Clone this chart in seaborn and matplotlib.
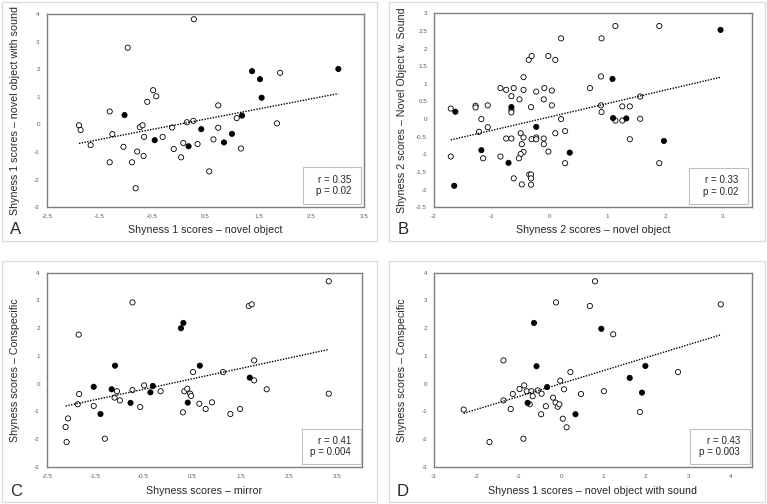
import numpy as np
import pandas as pd
import matplotlib.pyplot as plt
import seaborn as sns
from matplotlib.patches import Rectangle
from matplotlib.ticker import FixedLocator, FuncFormatter

sns.set_theme(style="white")
plt.rcParams["font.family"] = ["Liberation Sans", "DejaVu Sans"]
plt.rcParams["axes.unicode_minus"] = False

W, H = 767, 504

# ---------------------------------------------------------------------------
# Data (open = ○, filled = ●)
# ---------------------------------------------------------------------------
# A: novel object vs novel object with sound
A_OPEN_X = [-1.89, -1.86, -1.67, -1.31, -1.26, -1.31, -1.05, -0.97, -0.89, -0.82,
            -0.79, -0.74, -0.69, -0.66, -0.67, -0.60, -0.49, -0.43, -0.31, -0.13,
            -0.10, 0.04, 0.08, 0.15, 0.27, 0.28, 0.35, 0.57, 0.65, 0.74,
            0.74, 1.09, 1.17, 1.85, 1.91]
A_OPEN_Y = [-0.03, -0.20, -0.75, 0.47, -0.35, -1.37, -0.81, 2.78, -1.37, -2.31,
            -0.98, -0.10, -0.03, -0.45, -1.14, 0.82, 1.24, 1.02, -0.45, -0.11,
            -0.89, -1.19, -0.67, 0.08, 0.13, 3.81, -0.71, -1.70, -0.54, 0.69,
            -0.12, 0.23, -0.87, 0.04, 1.87]
A_FILLED_X = [-1.03, -0.46, 0.18, 0.42, 0.85, 1.00, 1.19, 1.38, 1.53, 1.56, 3.01]
A_FILLED_Y = [0.34, -0.57, -0.79, -0.17, -0.65, -0.34, 0.32, 1.93, 1.64, 0.97, 2.01]

# B: shyness 2, novel object vs novel object with sound
B_OPEN_X = [-1.71, -1.71, -1.28, -1.28, -1.18, -1.22, -1.07, -1.07, -1.15, -0.85,
            -0.75, -0.85, -0.75, -0.66, -0.66, -0.62, -0.66, -0.66, -0.62, -0.52,
            -0.45, -0.45, -0.50, -0.45, -0.48, -0.45, -0.50, -0.53, -0.48, -0.36,
            -0.31, -0.35, -0.32, -0.32, -0.32, -0.32, -0.31, -0.23, -0.23, -0.23,
            -0.09, -0.10, -0.10, -0.10, -0.02, -0.02, 0.04, 0.04, 0.10, 0.10,
            0.20, 0.20, 0.27, 0.27,
            1.14, 1.90, 0.90, 0.89, 0.70, 1.57, 0.89, 0.90, 1.26, 1.39,
            1.14, 1.26, 1.57, 1.39, 1.90]
B_OPEN_Y = [0.30, -1.06, 0.38, 0.33, 0.00, -0.36, -0.23, 0.39, -1.11, 0.88,
            0.83, -1.06, -0.55, -0.55, 0.65, 0.88, 0.26, 0.19, -1.68, 0.56,
            0.83, 1.19, -0.40, -0.52, -0.71, -0.93, -0.99, -1.11, -1.85, 1.68,
            1.79, -1.57, -1.57, -1.68, -1.86, 0.34, -0.57, 0.78, -0.52, -0.57,
            0.88, 0.56, -0.55, -0.71, 1.79, -0.92, 0.81, 0.39, 1.68, -0.40,
            0.00, 2.29, -0.34, -1.25,
            2.64, 2.64, 2.29, 1.21, 0.88, 0.64, 0.39, 0.20, 0.36, 0.36,
            -0.04, -0.04, 0.01, -0.57, -1.25]
B_FILLED_X = [-1.63, -1.65, -1.18, -0.66, -0.71, -0.23, 0.35, 2.96, 1.09, 1.10, 1.33, 1.98]
B_FILLED_Y = [0.21, -1.89, -0.88, 0.34, -1.24, -0.22, -0.95, 2.53, 1.14, 0.03, 0.02, -0.62]

# C: mirror vs conspecific
C_OPEN_X = [-2.11, -2.09, -2.06, -1.84, -1.83, -1.86, -1.53, -1.30, -1.10, -1.05,
            -0.99, -0.73, -0.73, -0.57, -0.49, -0.15, 0.31, 0.34, 0.40, 0.46,
            0.48, 0.52, 0.65,
            3.32, 1.67, 1.73, 1.78, 1.78, 1.14, 2.04, 3.32, 0.78, 0.91, 1.29, 1.49]
C_OPEN_Y = [-1.56, -2.10, -1.25, 1.77, -0.37, -0.74, -0.80, -1.98, -0.50, -0.27,
            -0.60, 2.93, -0.23, -0.84, -0.06, -0.27, -1.03, -0.27, -0.18, -0.36,
            -0.44, 0.42, -0.72,
            3.69, 2.80, 2.86, 0.84, 0.12, 0.42, -0.20, -0.36, -0.91, -0.67, -1.09, -0.91]
C_FILLED_X = [-1.53, -1.39, -1.16, -1.09, -0.77, -0.36, -0.31, 0.27, 0.32, 0.41, 0.66, 1.69]
C_FILLED_Y = [-0.11, -1.09, -0.20, 0.65, -0.69, -0.31, -0.08, 2.00, 2.19, -0.68, 0.65, 0.22]

# D: novel object with sound vs conspecific
D_OPEN_X = [-2.30, -1.69, -1.36, -1.36, -1.19, -1.14, -0.98, -0.87, -0.89, -0.81,
            -0.74, -0.70, -0.67, -0.55, -0.46, -0.47, -0.36, -0.19, -0.13, -0.08,
            -0.04, -0.12, -0.02, 0.07, 0.04, 0.13, 0.22, 0.47,
            0.80, 0.68, 1.23, 3.77, 2.76, 1.01, 1.86]
D_OPEN_Y = [-0.93, -2.10, 0.84, -0.60, -0.91, -0.37, -0.19, -0.06, -1.98, -0.27,
            -0.74, -0.27, -0.45, -0.24, -0.36, -1.10, -0.81, -0.50, -0.68, -0.83,
            -0.74, 2.93, 0.11, -0.20, -1.26, -1.57, 0.42, -0.37,
            3.69, 2.80, 1.78, 2.86, 0.42, -0.27, -1.02]
D_FILLED_X = [-0.64, -0.58, -0.33, -0.79, 0.34, 0.95, 1.99, 1.62, 1.91]
D_FILLED_Y = [2.19, 0.63, -0.12, -0.69, -1.10, 1.98, 0.64, 0.21, -0.32]

# axis ticks
A_XTICKS = [-2.5, -1.5, -0.5, 0.5, 1.5, 2.5, 3.5]
A_YTICKS = [-3, -2, -1, 0, 1, 2, 3, 4]
B_XTICKS = [-2, -1, 0, 1, 2, 3]
B_YTICKS = [-2.5, -2, -1.5, -1, -0.5, 0, 0.5, 1, 1.5, 2, 2.5, 3]
C_XTICKS = [-2.5, -1.5, -0.5, 0.5, 1.5, 2.5, 3.5]
C_YTICKS = [-3, -2, -1, 0, 1, 2, 3, 4]
D_XTICKS = [-3, -2, -1, 0, 1, 2, 3, 4]
D_YTICKS = [-3, -2, -1, 0, 1, 2, 3, 4]

STATS = ["r = 0.35\np = 0.02", "r = 0.33\np = 0.02", "r = 0.41\np = 0.004", "r = 0.43\np = 0.003"]


def fig_rect(l, t, r, b):
    return [l / W, 1 - b / H, (r - l) / W, (b - t) / H]


PANELS = [
    dict(letter="A", ox=A_OPEN_X, oy=A_OPEN_Y, fx=A_FILLED_X, fy=A_FILLED_Y,
         xticks=A_XTICKS, yticks=A_YTICKS, xlim=(-2.5, 3.5), ylim=(-3, 4),
         xlabel="Shyness 1 scores \u2013 novel object",
         ylabel="Shyness 1 scores \u2013 novel object with sound",
         frame=(2, 2, 377, 241), axes=(46.7, 14, 364.3, 207.3), box=(303, 167, 361, 204)),
    dict(letter="B", ox=B_OPEN_X, oy=B_OPEN_Y, fx=B_FILLED_X, fy=B_FILLED_Y,
         xticks=B_XTICKS, yticks=B_YTICKS, xlim=(-2, 3.5), ylim=(-2.5, 3),
         xlabel="Shyness 2 scores \u2013 novel object",
         ylabel="Shyness 2 scores \u2013 Novel Object w. Sound",
         frame=(389, 2, 765, 241), axes=(434, 13.3, 751.7, 207.3), box=(689, 168, 748, 204)),
    dict(letter="C", ox=C_OPEN_X, oy=C_OPEN_Y, fx=C_FILLED_X, fy=C_FILLED_Y,
         xticks=C_XTICKS, yticks=C_YTICKS, xlim=(-2.5, 4), ylim=(-3, 4),
         xlabel="Shyness scores \u2013 mirror",
         ylabel="Shyness scores \u2013 Conspecific",
         frame=(2, 261, 377, 502), axes=(46.7, 272.7, 361.7, 467), box=(302, 429, 361, 464)),
    dict(letter="D", ox=D_OPEN_X, oy=D_OPEN_Y, fx=D_FILLED_X, fy=D_FILLED_Y,
         xticks=D_XTICKS, yticks=D_YTICKS, xlim=(-3, 4.5), ylim=(-3, 4),
         xlabel="Shyness 1 scores \u2013 novel object with sound",
         ylabel="Shyness scores \u2013 Conspecific",
         frame=(389, 261, 765, 502), axes=(434, 272.7, 751.7, 467), box=(690, 429, 750, 464)),
]

fig = plt.figure(figsize=(W / 100, H / 100), dpi=100)
fig.patch.set_facecolor("white")

for p, stats_txt in zip(PANELS, STATS):
    # outer light frame of each panel
    fl, ft, fr, fb = p["frame"]
    fig.add_artist(Rectangle((fl / W, 1 - fb / H), (fr - fl) / W, (fb - ft) / H,
                             transform=fig.transFigure, fill=False,
                             ec="#d9d9d9", lw=0.9))

    al, at, ar, ab = p["axes"]
    ax = fig.add_axes(fig_rect(al, at, ar, ab))

    df = pd.DataFrame({
        "x": list(p["ox"]) + list(p["fx"]),
        "y": list(p["oy"]) + list(p["fy"]),
        "group": ["open"] * len(p["ox"]) + ["filled"] * len(p["fx"]),
    })

    sns.regplot(data=df, x="x", y="y", scatter=False, ci=None, ax=ax,
                line_kws=dict(color="black", ls=(0, (1, 1)), lw=1.0))
    sns.scatterplot(data=df, x="x", y="y", hue="group",
                    palette={"open": "white", "filled": "black"},
                    edgecolor="black", linewidth=0.6, s=14, legend=False, ax=ax)

    ax.set_xlim(*p["xlim"])
    ax.set_ylim(*p["ylim"])
    ax.xaxis.set_major_locator(FixedLocator(p["xticks"]))
    ax.yaxis.set_major_locator(FixedLocator(p["yticks"]))
    fmt = FuncFormatter(lambda v, _: f"{v:g}")
    ax.xaxis.set_major_formatter(fmt)
    ax.yaxis.set_major_formatter(fmt)
    ax.tick_params(axis="both", length=0, labelsize=4.5, labelcolor="#595959")
    ax.tick_params(axis="x", pad=5)
    ax.tick_params(axis="y", pad=5)
    for s in ax.spines.values():
        s.set_color("#7f7f7f")
        s.set_linewidth(1.0)
    ax.grid(False)

    # axis titles
    aw, ah = ar - al, ab - at
    ax.set_xlabel(p["xlabel"], fontsize=7.7, color="#262626")
    ax.xaxis.set_label_coords(0.5, -(fb - 11 - ab) / ah)
    ax.xaxis.label.set_va("center")
    ax.set_ylabel(p["ylabel"], fontsize=7.7, color="#262626")
    ax.yaxis.set_label_coords(-(al - fl - 13) / aw, 0.5)
    ax.yaxis.label.set_va("center")

    # panel letter
    fig.text((fl + 14) / W, 1 - (fb - 11) / H, p["letter"], fontsize=12,
             color="#262626", ha="center", va="center")

    # stats box
    bl, bt, br, bb = p["box"]
    fig.add_artist(Rectangle((bl / W, 1 - bb / H), (br - bl) / W, (bb - bt) / H,
                             transform=fig.transFigure, fc="white",
                             ec="#bfbfbf", lw=0.8, zorder=5))
    fig.text((br - 10) / W, 1 - ((bt + bb) / 2) / H, stats_txt, fontsize=7,
             color="#262626", ha="right", va="center", zorder=6, linespacing=1.15)

fig.savefig("out.png", dpi=100, facecolor="white")
